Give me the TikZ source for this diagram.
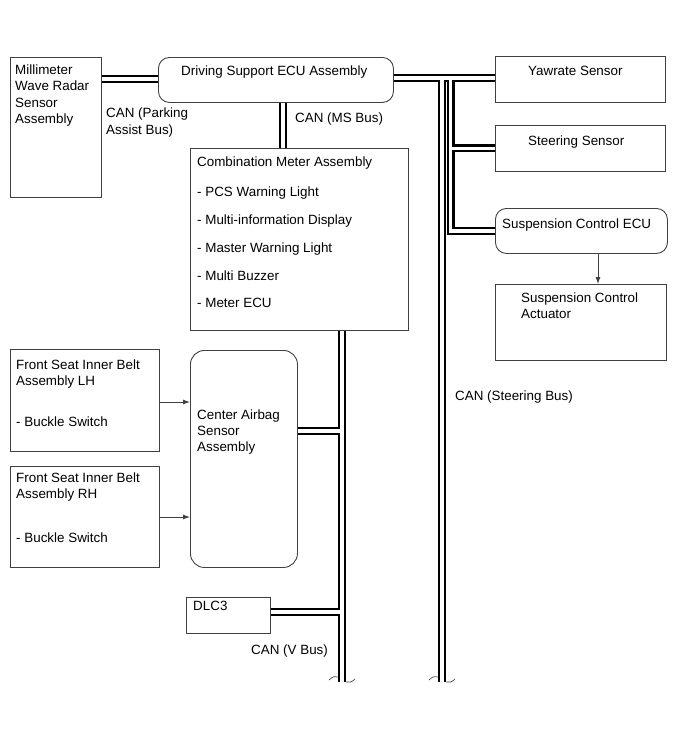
\documentclass[tikz,border=0pt]{standalone}
\usepackage{fontspec}
\setmainfont{Liberation Sans}
\usetikzlibrary{arrows.meta,backgrounds}
\newcommand\brkmark[1]{%
  \draw[brk] ([shift={(-13,-2)}]#1) .. controls ([shift={(-9,-6)}]#1) and ([shift={(-6,-6)}]#1) .. ([shift={(-4,-5)}]#1);
  \draw[brk] ([shift={(4,0)}]#1) .. controls ([shift={(7,1)}]#1) and ([shift={(10,0)}]#1) .. ([shift={(13,-3)}]#1);
}
\begin{document}
\begin{tikzpicture}[x=1pt,y=-1pt,
  box/.style={draw=black!75, line width=0.9pt, rectangle, inner sep=0, anchor=north west},
  rbox/.style={box, rounded corners=11pt},
  lbl/.style={anchor=base west, inner sep=0, font=\fontsize{13.4}{16}\selectfont, text=black},
  busout/.style={draw=black, line width=8pt},
  busin/.style={draw=white, line width=3.6pt},
  arr/.style={draw=black!75, line width=0.9pt, -{Latex[length=7pt,width=5pt]}},
  brk/.style={draw=black!70, line width=0.7pt},
]
\useasboundingbox (0,0) rectangle (689,756);

% boxes
\node[box, minimum width=91, minimum height=140] (mm) at (10,57) {};
\node[rbox, minimum width=235, minimum height=45] (drv) at (158,57) {};
\node[box, minimum width=218, minimum height=182] (cmb) at (190,148) {};
\node[box, minimum width=170, minimum height=46] (yaw) at (495,56) {};
\node[box, minimum width=170, minimum height=46] (str) at (495,125) {};
\node[rbox, minimum width=172, minimum height=45] (sus) at (495,208) {};
\node[box, minimum width=171, minimum height=76] (act) at (495,284) {};
\node[box, minimum width=149, minimum height=102] (lh) at (10,349) {};
\node[box, minimum width=149, minimum height=101] (rh) at (10,466) {};
\node[box, rounded corners=14pt, minimum width=107, minimum height=217] (air) at (190,350) {};
\node[box, minimum width=84, minimum height=36] (dlc) at (186,597) {};

% helper coordinates
\coordinate (pk) at (0,79);
\coordinate (ms) at (283,0);
\coordinate (tb) at (0,78);
\coordinate (tx) at (442,0);
\coordinate (bx) at (450.5,0);
\coordinate (vx) at (342,0);
\coordinate (ab) at (0,431);
\coordinate (dl) at (0,612);
\coordinate (vend) at (342,682);
\coordinate (tend) at (442,682);
\coordinate (ay1) at (0,402);
\coordinate (ay2) at (0,517);
\coordinate (ax) at (598,0);

% buses
\begin{scope}[on background layer]
\foreach \s in {busout,busin}{
  \draw[\s] (mm.east |- pk) -- (drv.west |- pk);
  \draw[\s] (drv.south -| ms) -- (cmb.north -| ms);
  \draw[\s] (drv.east |- tb) -- (yaw.west |- tb);
  \draw[\s] (tb -| tx) -- (tend);
  \draw[\s] (tb -| bx) -- (bx |- sus.west) -- (sus.west);
  \draw[\s] (bx |- str.west) -- (str.west);
  \draw[\s] (cmb.south -| vx) -- (vend);
  \draw[\s] (air.east |- ab) -- (ab -| vx);
  \draw[\s] (dlc.east |- dl) -- (dl -| vx);
}
\end{scope}
\brkmark{vend}
\brkmark{tend}

% arrows
\draw[arr] (lh.east |- ay1) -- (air.west |- ay1);
\draw[arr] (rh.east |- ay2) -- (air.west |- ay2);
\draw[arr] (sus.south -| ax) -- (act.north -| ax);

% labels
\node[lbl] (t1) at (15,74) {Millimeter};
\node[lbl] (t2) at (15,90.5) {Wave Radar};
\node[lbl] (t3) at (15,107) {Sensor};
\node[lbl] (t4) at (15,123.5) {Assembly};
\node[lbl] (t5) at (106,117) {CAN (Parking};
\node[lbl] (t6) at (106,134) {Assist Bus)};
\node[lbl] (t7) at (181,75) {Driving Support ECU Assembly};
\node[lbl] (t8) at (295,122) {CAN (MS Bus)};
\node[lbl] (t9) at (197,166.5) {Combination Meter Assembly};
\node[lbl] (t10) at (197,196.5) {- PCS Warning Light};
\node[lbl] (t11) at (197,224.5) {- Multi-information Display};
\node[lbl] (t12) at (197,252.5) {- Master Warning Light};
\node[lbl] (t13) at (197,280.5) {- Multi Buzzer};
\node[lbl] (t14) at (197,307.5) {- Meter ECU};
\node[lbl] (t15) at (528,75.5) {Yawrate Sensor};
\node[lbl] (t16) at (528,145.5) {Steering Sensor};
\node[lbl] (t17) at (502,228.5) {Suspension Control ECU};
\node[lbl] (t18) at (521,302) {Suspension Control};
\node[lbl] (t19) at (521,318.5) {Actuator};
\node[lbl] (t20) at (455,400.5) {CAN (Steering Bus)};
\node[lbl] (t21) at (16,369.5) {Front Seat Inner Belt};
\node[lbl] (t22) at (16,385.5) {Assembly LH};
\node[lbl] (t23) at (16,426.5) {- Buckle Switch};
\node[lbl] (t24) at (197,419.5) {Center Airbag};
\node[lbl] (t25) at (197,435.5) {Sensor};
\node[lbl] (t26) at (197,451.5) {Assembly};
\node[lbl] (t27) at (16,482.5) {Front Seat Inner Belt};
\node[lbl] (t28) at (16,498.5) {Assembly RH};
\node[lbl] (t29) at (16,542.5) {- Buckle Switch};
\node[lbl] (t30) at (193,610.5) {DLC3};
\node[lbl] (t31) at (251,654.5) {CAN (V Bus)};
\end{tikzpicture}
\end{document}
